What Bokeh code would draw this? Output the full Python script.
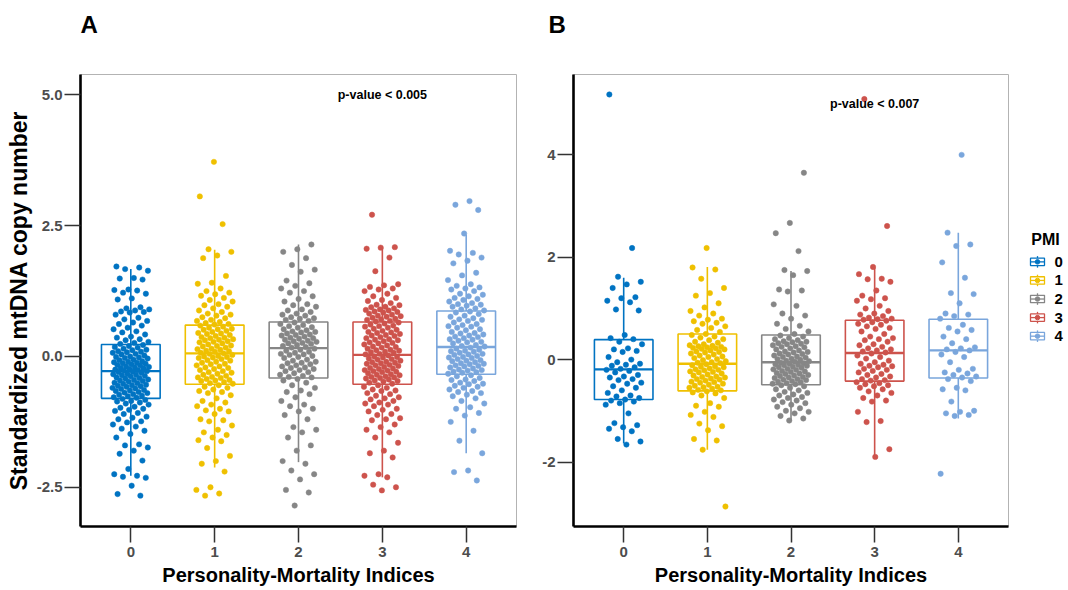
from bokeh.plotting import figure
from bokeh.models import FixedTicker, Range1d, Label, NumeralTickFormatter, ColumnDataSource
from bokeh.layouts import row, column
from bokeh.embed import file_html
from bokeh.resources import INLINE

# ---------------- data ----------------
groups = [0, 1, 2, 3, 4]
group_labels = ["0", "1", "2", "3", "4"]
colors = ["#0073C2", "#EFC000", "#868686", "#CD534C", "#7AA6DC"]
panel_letters = ["A", "B"]

# Panel A : box statistics
a_q1 = [-0.80, -0.53, -0.41, -0.53, -0.34]
a_med = [-0.28, 0.06, 0.16, 0.03, 0.18]
a_q3 = [0.23, 0.60, 0.66, 0.66, 0.87]
a_wlo = [-2.28, -2.12, -2.02, -2.31, -1.85]
a_whi = [1.67, 2.04, 2.14, 2.08, 2.33]

# Panel A : individual points (standardized mtDNA copy number)
a_pmi0 = [1.72, 1.70, 1.67, 1.64, 1.50, 1.49, 1.47, 1.28, 1.27, 1.26, 1.22, 1.20, 1.11, 1.09, 0.94, 0.92,
          0.90, 0.88, 0.86, 0.85, 0.84, 0.80, 0.74, 0.71, 0.68, 0.65, 0.62, 0.59, 0.55, 0.52, 0.48, 0.46,
          0.42, 0.38, 0.36, 0.33, 0.31, 0.28, 0.26, 0.24, 0.22, 0.20, 0.18, 0.17, 0.15, 0.13, 0.12, 0.10,
          0.09, 0.08, 0.07, 0.05, 0.04, 0.02, 0.00, -0.01, -0.02, -0.03, -0.04, -0.06, -0.07, -0.09, -0.10,
          -0.11, -0.12, -0.13, -0.14, -0.15, -0.16, -0.17, -0.19, -0.20, -0.21, -0.22, -0.23, -0.24, -0.25,
          -0.26, -0.27, -0.28, -0.29, -0.30, -0.31, -0.33, -0.34, -0.35, -0.36, -0.37, -0.38, -0.40, -0.41,
          -0.42, -0.44, -0.45, -0.46, -0.47, -0.48, -0.50, -0.51, -0.52, -0.54, -0.55, -0.56, -0.57, -0.58,
          -0.60, -0.61, -0.62, -0.64, -0.65, -0.66, -0.68, -0.69, -0.70, -0.72, -0.73, -0.75, -0.76, -0.78,
          -0.79, -0.81, -0.83, -0.85, -0.86, -0.88, -0.90, -0.92, -0.96, -0.98, -1.00, -1.02, -1.04, -1.08,
          -1.10, -1.15, -1.17, -1.20, -1.24, -1.26, -1.30, -1.34, -1.38, -1.42, -1.48, -1.55, -1.68, -1.70,
          -1.74, -1.80, -1.86, -1.99, -2.15, -2.25, -2.28, -2.30, -2.32, -2.47, -2.63, -2.66]
a_pmi1 = [3.72, 3.06, 2.53, 2.05, 2.00, 1.93, 1.88, 1.54, 1.41, 1.39, 1.30, 1.25, 1.22, 1.19, 1.16, 1.12,
          1.08, 1.05, 1.00, 0.98, 0.95, 0.92, 0.88, 0.85, 0.82, 0.80, 0.78, 0.75, 0.73, 0.70, 0.68, 0.66,
          0.64, 0.62, 0.61, 0.59, 0.57, 0.55, 0.53, 0.52, 0.51, 0.49, 0.47, 0.45, 0.44, 0.43, 0.41, 0.39,
          0.37, 0.36, 0.35, 0.33, 0.32, 0.31, 0.29, 0.28, 0.27, 0.25, 0.23, 0.21, 0.20, 0.19, 0.17, 0.15,
          0.14, 0.13, 0.11, 0.10, 0.09, 0.07, 0.06, 0.05, 0.03, 0.01, 0.00, -0.01, -0.02, -0.03, -0.05,
          -0.07, -0.08, -0.10, -0.12, -0.14, -0.15, -0.17, -0.19, -0.21, -0.22, -0.24, -0.26, -0.28, -0.30,
          -0.31, -0.33, -0.35, -0.37, -0.39, -0.40, -0.41, -0.43, -0.45, -0.46, -0.47, -0.49, -0.51, -0.52,
          -0.55, -0.58, -0.60, -0.63, -0.66, -0.68, -0.70, -0.74, -0.80, -0.85, -0.88, -0.92, -0.95, -1.00,
          -1.03, -1.05, -1.10, -1.20, -1.22, -1.24, -1.32, -1.40, -1.45, -1.50, -1.55, -1.60, -1.62, -1.75,
          -1.90, -2.00, -2.05, -2.20, -2.50, -2.55, -2.62, -2.66]
a_pmi2 = [2.14, 2.05, 2.00, 1.88, 1.75, 1.66, 1.62, 1.45, 1.40, 1.35, 1.30, 1.25, 1.22, 1.15, 1.10, 1.05,
          1.00, 0.98, 0.95, 0.90, 0.88, 0.85, 0.82, 0.80, 0.78, 0.75, 0.73, 0.72, 0.70, 0.68, 0.65, 0.62,
          0.60, 0.58, 0.56, 0.55, 0.52, 0.50, 0.48, 0.47, 0.46, 0.44, 0.42, 0.41, 0.40, 0.38, 0.36, 0.35,
          0.34, 0.32, 0.30, 0.29, 0.28, 0.26, 0.25, 0.24, 0.22, 0.20, 0.18, 0.17, 0.15, 0.13, 0.11, 0.09,
          0.07, 0.05, 0.04, 0.03, 0.01, -0.01, -0.03, -0.06, -0.08, -0.10, -0.12, -0.13, -0.15, -0.17,
          -0.19, -0.21, -0.22, -0.24, -0.26, -0.28, -0.30, -0.32, -0.35, -0.37, -0.39, -0.40, -0.43, -0.46,
          -0.50, -0.55, -0.60, -0.65, -0.68, -0.72, -0.78, -0.85, -0.92, -0.95, -1.00, -1.05, -1.12, -1.20,
          -1.35, -1.40, -1.45, -1.55, -1.70, -1.80, -2.00, -2.05, -2.18, -2.25, -2.35, -2.55, -2.60, -2.85]
a_pmi3 = [2.71, 2.09, 2.08, 2.06, 1.89, 1.63, 1.38, 1.36, 1.33, 1.30, 1.28, 1.25, 1.20, 1.15, 1.12, 1.08,
          1.06, 1.02, 0.99, 0.98, 0.95, 0.94, 0.92, 0.90, 0.89, 0.88, 0.86, 0.85, 0.84, 0.82, 0.80, 0.78,
          0.77, 0.76, 0.74, 0.72, 0.71, 0.70, 0.68, 0.67, 0.65, 0.63, 0.61, 0.59, 0.58, 0.57, 0.55, 0.53,
          0.51, 0.49, 0.47, 0.46, 0.45, 0.43, 0.41, 0.40, 0.39, 0.37, 0.35, 0.33, 0.32, 0.31, 0.29, 0.27,
          0.26, 0.25, 0.23, 0.21, 0.19, 0.18, 0.17, 0.15, 0.13, 0.12, 0.11, 0.09, 0.08, 0.07, 0.05, 0.04,
          0.02, 0.00, -0.01, -0.02, -0.04, -0.05, -0.06, -0.08, -0.10, -0.11, -0.12, -0.13, -0.14, -0.16,
          -0.17, -0.18, -0.20, -0.22, -0.23, -0.24, -0.26, -0.27, -0.28, -0.29, -0.30, -0.32, -0.34, -0.35,
          -0.36, -0.38, -0.39, -0.40, -0.41, -0.42, -0.44, -0.46, -0.47, -0.48, -0.50, -0.52, -0.55, -0.58,
          -0.60, -0.63, -0.65, -0.66, -0.70, -0.72, -0.75, -0.78, -0.80, -0.82, -0.85, -0.88, -0.90, -0.92,
          -0.95, -1.00, -1.02, -1.05, -1.10, -1.12, -1.18, -1.20, -1.22, -1.30, -1.35, -1.40, -1.45, -1.55,
          -1.65, -1.80, -1.85, -1.93, -2.25, -2.28, -2.31, -2.45, -2.50, -2.56]
a_pmi4 = [2.97, 2.90, 2.80, 2.35, 2.02, 1.98, 1.95, 1.89, 1.83, 1.78, 1.60, 1.55, 1.46, 1.38, 1.35, 1.32,
          1.30, 1.28, 1.25, 1.20, 1.18, 1.15, 1.12, 1.10, 1.08, 1.05, 1.02, 1.00, 0.99, 0.97, 0.95, 0.92,
          0.90, 0.88, 0.86, 0.84, 0.81, 0.78, 0.76, 0.73, 0.71, 0.70, 0.68, 0.65, 0.62, 0.60, 0.58, 0.57,
          0.55, 0.52, 0.50, 0.47, 0.45, 0.44, 0.42, 0.40, 0.38, 0.37, 0.35, 0.33, 0.32, 0.30, 0.28, 0.27,
          0.25, 0.22, 0.20, 0.19, 0.17, 0.15, 0.13, 0.11, 0.10, 0.09, 0.07, 0.05, 0.04, 0.03, 0.01, -0.01,
          -0.02, -0.03, -0.05, -0.07, -0.08, -0.09, -0.11, -0.13, -0.14, -0.15, -0.17, -0.18, -0.19, -0.21,
          -0.23, -0.25, -0.26, -0.27, -0.29, -0.30, -0.31, -0.33, -0.36, -0.38, -0.41, -0.44, -0.45, -0.47,
          -0.50, -0.52, -0.53, -0.56, -0.58, -0.60, -0.63, -0.66, -0.68, -0.70, -0.73, -0.76, -0.80, -0.85,
          -0.90, -0.97, -1.00, -1.08, -1.13, -1.25, -1.42, -1.61, -1.85, -2.18, -2.21, -2.37]

# Panel B : box statistics
b_q1 = [-0.78, -0.61, -0.49, -0.42, -0.36]
b_med = [-0.19, -0.08, -0.05, 0.13, 0.18]
b_q3 = [0.39, 0.50, 0.48, 0.77, 0.79]
b_wlo = [-1.64, -1.76, -1.19, -1.90, -1.15]
b_whi = [1.60, 1.81, 1.73, 1.80, 2.48]

# Panel B : individual points
b_pmi0 = [5.18, 2.18, 1.62, 1.52, 1.47, 1.40, 1.22, 1.20, 1.15, 1.12, 0.98, 0.96, 0.48, 0.42, 0.40, 0.35,
          0.30, 0.22, 0.20, 0.17, 0.15, 0.05, 0.00, -0.05, -0.08, -0.10, -0.12, -0.15, -0.18, -0.20, -0.22,
          -0.25, -0.30, -0.33, -0.35, -0.38, -0.40, -0.45, -0.47, -0.52, -0.55, -0.60, -0.65, -0.70, -0.72,
          -0.75, -0.78, -0.80, -0.82, -0.85, -0.88, -1.05, -1.24, -1.28, -1.32, -1.35, -1.40, -1.55, -1.60,
          -1.66]
b_pmi1 = [2.18, 1.80, 1.76, 1.58, 1.40, 1.30, 1.25, 1.10, 1.02, 0.95, 0.90, 0.86, 0.80, 0.78, 0.75, 0.72,
          0.70, 0.65, 0.62, 0.58, 0.54, 0.50, 0.48, 0.45, 0.43, 0.40, 0.38, 0.35, 0.33, 0.30, 0.28, 0.27,
          0.26, 0.25, 0.24, 0.23, 0.22, 0.21, 0.20, 0.18, 0.16, 0.15, 0.14, 0.12, 0.10, 0.08, 0.06, 0.05,
          0.03, 0.01, -0.01, -0.03, -0.05, -0.06, -0.07, -0.09, -0.11, -0.13, -0.14, -0.15, -0.17, -0.19,
          -0.20, -0.21, -0.23, -0.24, -0.25, -0.27, -0.29, -0.31, -0.33, -0.34, -0.35, -0.37, -0.38, -0.39,
          -0.41, -0.43, -0.44, -0.45, -0.47, -0.49, -0.51, -0.53, -0.54, -0.55, -0.57, -0.59, -0.60, -0.62,
          -0.64, -0.66, -0.70, -0.75, -0.85, -0.90, -0.92, -1.02, -1.08, -1.12, -1.25, -1.30, -1.38, -1.55,
          -1.58, -1.76, -2.87]
b_pmi2 = [3.65, 2.67, 2.47, 2.12, 1.75, 1.73, 1.65, 1.37, 1.35, 1.33, 1.08, 1.05, 0.90, 0.86, 0.80, 0.70,
          0.66, 0.60, 0.55, 0.50, 0.47, 0.45, 0.42, 0.40, 0.38, 0.36, 0.35, 0.34, 0.32, 0.31, 0.30, 0.28,
          0.26, 0.25, 0.24, 0.22, 0.20, 0.18, 0.16, 0.15, 0.14, 0.12, 0.11, 0.10, 0.08, 0.06, 0.05, 0.04,
          0.02, 0.01, 0.00, -0.02, -0.03, -0.04, -0.06, -0.07, -0.08, -0.09, -0.10, -0.11, -0.12, -0.14,
          -0.15, -0.16, -0.18, -0.19, -0.20, -0.22, -0.23, -0.24, -0.26, -0.27, -0.28, -0.30, -0.31, -0.32,
          -0.34, -0.35, -0.36, -0.38, -0.39, -0.40, -0.42, -0.43, -0.44, -0.46, -0.47, -0.48, -0.50, -0.52,
          -0.55, -0.58, -0.60, -0.63, -0.65, -0.68, -0.70, -0.73, -0.75, -0.78, -0.80, -0.83, -0.85, -0.88,
          -0.92, -0.95, -1.00, -1.02, -1.05, -1.10, -1.15, -1.19]
b_pmi3 = [5.09, 2.61, 1.81, 1.67, 1.58, 1.57, 1.52, 1.35, 1.25, 1.20, 1.18, 1.15, 1.05, 1.00, 0.95, 0.90,
          0.88, 0.85, 0.82, 0.80, 0.79, 0.78, 0.76, 0.73, 0.70, 0.68, 0.65, 0.62, 0.60, 0.55, 0.50, 0.45,
          0.42, 0.40, 0.38, 0.35, 0.30, 0.28, 0.25, 0.22, 0.20, 0.18, 0.16, 0.14, 0.12, 0.08, 0.05, 0.02,
          -0.02, -0.05, -0.08, -0.10, -0.12, -0.13, -0.15, -0.18, -0.20, -0.22, -0.25, -0.28, -0.30, -0.33,
          -0.35, -0.38, -0.40, -0.41, -0.44, -0.46, -0.48, -0.50, -0.52, -0.55, -0.58, -0.62, -0.65, -0.70,
          -0.75, -0.80, -0.82, -1.02, -1.20, -1.22, -1.75, -1.90]
b_pmi4 = [4.00, 2.48, 2.25, 2.22, 1.90, 1.60, 1.30, 1.28, 1.10, 0.90, 0.88, 0.85, 0.80, 0.68, 0.62, 0.58,
          0.55, 0.45, 0.40, 0.32, 0.24, 0.22, 0.20, 0.18, 0.15, 0.10, 0.05, -0.05, -0.18, -0.20, -0.25,
          -0.27, -0.30, -0.33, -0.35, -0.38, -0.42, -0.55, -0.58, -0.60, -0.82, -1.00, -1.02, -1.05, -1.08,
          -1.10, -2.23]

a_points = [a_pmi0, a_pmi1, a_pmi2, a_pmi3, a_pmi4]
b_points = [b_pmi0, b_pmi1, b_pmi2, b_pmi3, b_pmi4]

FONT = "Liberation Sans"
BOX_W = 0.7
JIT = 0.22
STRIP_H = 40          # strip holding the panel letters
MAIN_H = 550          # height of the plotting row
W_A, W_B, W_L = 530, 485, 53


def jitter(n, phase):
    # deterministic low-discrepancy horizontal spread (visual jitter only)
    return [JIT * (2.0 * ((i * 0.6180339887 + phase) % 1.0) - 1.0) for i in range(n)]


def panel(points, q1, med, q3, wlo, whi, yr, yticks, yfmt, ylabel, ptext,
          width, mbl, mbr, mbt, mbb):
    p = figure(width=width, height=MAIN_H, x_range=Range1d(-0.6, 4.6), y_range=Range1d(*yr),
               output_backend="svg", toolbar_location=None,
               min_border_left=mbl, min_border_right=mbr, min_border_top=mbt, min_border_bottom=mbb)
    p.xgrid.visible = False
    p.ygrid.visible = False
    p.outline_line_color = "#b3b3b3"
    p.outline_line_width = 1
    p.background_fill_color = "white"

    src = ColumnDataSource(dict(x=groups, q1=q1, med=med, q3=q3, wlo=wlo, whi=whi, color=colors,
                                xl=[g - BOX_W / 2 for g in groups], xr=[g + BOX_W / 2 for g in groups]))
    p.segment(x0="x", y0="q3", x1="x", y1="whi", line_color="color", line_width=1.6, source=src)
    p.segment(x0="x", y0="q1", x1="x", y1="wlo", line_color="color", line_width=1.6, source=src)
    p.vbar(x="x", width=BOX_W, bottom="q1", top="q3", fill_color="white", line_color="color",
           line_width=1.6, source=src)
    p.segment(x0="xl", y0="med", x1="xr", y1="med", line_color="color", line_width=2.4, source=src)

    for g, vals in zip(groups, points):
        xs = [g + d for d in jitter(len(vals), 0.37 * g + 0.11)]
        p.scatter(xs, vals, size=5.4, fill_color=colors[g], line_color=colors[g], line_width=0.5)

    p.xaxis.ticker = FixedTicker(ticks=groups)
    p.xaxis.major_label_overrides = {g: lab for g, lab in zip(groups, group_labels)}
    p.yaxis.ticker = FixedTicker(ticks=yticks)
    p.yaxis.formatter = NumeralTickFormatter(format=yfmt)
    for ax in (p.xaxis[0], p.yaxis[0]):
        ax.axis_line_color = "black"
        ax.axis_line_width = 2.6
        ax.major_tick_out = 16
        ax.major_tick_in = 0
        ax.major_tick_line_color = "#333333"
        ax.major_tick_line_width = 1.5
        ax.minor_tick_line_color = None
        ax.major_label_text_font = FONT
        ax.major_label_text_font_style = "bold"
        ax.major_label_text_font_size = "15px"
        ax.major_label_text_color = "#4D4D4D"
        ax.axis_label_text_font = FONT
        ax.axis_label_text_font_style = "bold"
        ax.axis_label_text_color = "black"
    p.xaxis.major_label_standoff = 4
    p.yaxis.major_label_standoff = 2
    p.xaxis.axis_label = "Personality-Mortality Indices"
    p.xaxis.axis_label_text_font_size = "20px"
    p.xaxis.axis_label_standoff = 4
    if ylabel:
        p.yaxis.axis_label = ylabel
        p.yaxis.axis_label_text_font_size = "23px"
        p.yaxis.axis_label_standoff = 2

    p.add_layout(Label(x=3, y=5.0, text=ptext, text_align="center", text_baseline="middle",
                       text_font=FONT, text_font_style="bold", text_font_size="12.5px",
                       text_color="black"))
    return p


pA = panel(a_points, a_q1, a_med, a_q3, a_wlo, a_whi, (-3.25, 5.39), [-2.5, 0.0, 2.5, 5.0], "0.0",
           "Standardized mtDNA copy number", "p-value < 0.005",
           W_A, 80, 14, 73 - STRIP_H, 64)
pB = panel(b_points, b_q1, b_med, b_q3, b_wlo, b_whi, (-3.26, 5.57), [-2, 0, 2, 4], "0",
           None, "p-value < 0.007",
           W_B, 43, 7, 74 - STRIP_H, 64)

# ---------------- strip with the panel letters (pixel-scaled ranges) ----------------
total_w = W_A + W_B + W_L
pT = figure(width=total_w, height=STRIP_H, x_range=Range1d(0, total_w), y_range=Range1d(STRIP_H, 0),
            output_backend="svg", toolbar_location=None, min_border=0)
pT.axis.visible = False
pT.xgrid.visible = False
pT.ygrid.visible = False
pT.outline_line_color = None
pT.text(x=[80, 548], y=[24, 24], text=panel_letters, text_align="left", text_baseline="middle",
        text_font={"value": FONT}, text_font_style="bold", text_font_size="24px", text_color="black")

# ---------------- legend (narrow figure, pixel-scaled ranges) ----------------
x0L = W_A + W_B
pL = figure(width=W_L, height=MAIN_H, x_range=Range1d(x0L, x0L + W_L),
            y_range=Range1d(STRIP_H + MAIN_H, STRIP_H),
            output_backend="svg", toolbar_location=None, min_border=0)
pL.axis.visible = False
pL.xgrid.visible = False
pL.ygrid.visible = False
pL.outline_line_color = None
pL.text(x=[1045], y=[241], text=["PMI"], text_align="center", text_baseline="middle",
        text_font={"value": FONT}, text_font_style="bold", text_font_size="16px", text_color="black")
key_y = [268 + 22.6 * g for g in groups]
kx = 1037
lsrc = ColumnDataSource(dict(x=[kx] * 5, y=key_y, color=colors, lab=group_labels,
                             xl=[kx - 7] * 5, xr=[kx + 7] * 5,
                             yt0=[y - 4.5 for y in key_y], yt1=[y - 7 for y in key_y],
                             yb0=[y + 4.5 for y in key_y], yb1=[y + 7 for y in key_y],
                             xt=[kx + 17] * 5))
pL.segment(x0="x", y0="yt0", x1="x", y1="yt1", line_color="color", line_width=1.3, source=lsrc)
pL.segment(x0="x", y0="yb0", x1="x", y1="yb1", line_color="color", line_width=1.3, source=lsrc)
pL.rect(x="x", y="y", width=14, height=9, fill_color="white", line_color="color", line_width=1.3,
        source=lsrc)
pL.segment(x0="xl", y0="y", x1="xr", y1="y", line_color="color", line_width=1.3, source=lsrc)
pL.scatter(x="x", y="y", size=4.5, fill_color="color", line_color="color", source=lsrc)
pL.text(x="xt", y="y", text="lab", text_align="left", text_baseline="middle",
        text_font={"value": FONT}, text_font_style="bold", text_font_size="15px", text_color="black",
        source=lsrc)

layout = column(pT, row(pA, pB, pL))
open("out.html", "w").write(file_html(layout, INLINE))
